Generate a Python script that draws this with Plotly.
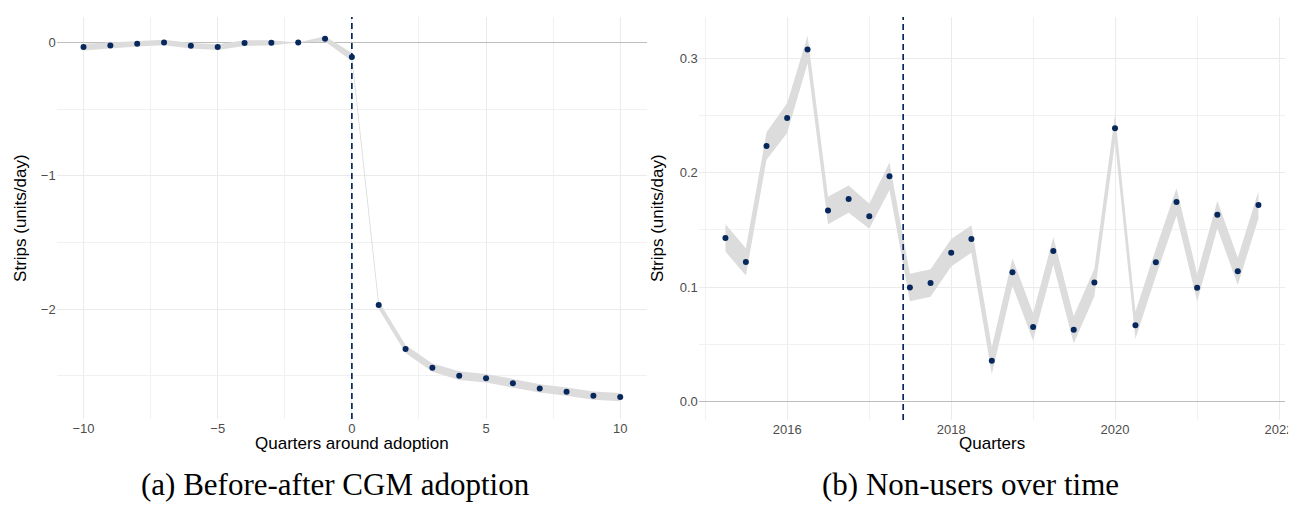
import plotly.graph_objects as go

W, H = 1304, 505

# ---------------- Data: panel (a) ----------------
quarters_rel = list(range(-10, 11))
est_rel = [-0.035, -0.022, -0.010, 0.000, -0.025, -0.035, -0.005, -0.003, 0.000, 0.027,
           -0.110, -1.970, -2.300, -2.440, -2.500, -2.520, -2.556, -2.596, -2.620, -2.650, -2.660]
ci_rel = [0.026, 0.022, 0.020, 0.021, 0.021, 0.022, 0.022, 0.020, 0.000, 0.020,
          0.030, 0.030, 0.030, 0.031, 0.033, 0.032, 0.032, 0.031, 0.031, 0.031, 0.031]
x_ticks_rel = [-10, -5, 0, 5, 10]
y_ticks_rel = [0, -1, -2]

# ---------------- Data: panel (b) ----------------
dates_nu = ["2015-04-01", "2015-07-01", "2015-10-01", "2016-01-01", "2016-04-01", "2016-07-01",
            "2016-10-01", "2017-01-01", "2017-04-01", "2017-07-01", "2017-10-01", "2018-01-01",
            "2018-04-01", "2018-07-01", "2018-10-01", "2019-01-01", "2019-04-01", "2019-07-01",
            "2019-10-01", "2020-01-01", "2020-04-01", "2020-07-01", "2020-10-01", "2021-01-01",
            "2021-04-01", "2021-07-01", "2021-10-01"]
est_nu = [0.143, 0.122, 0.2235, 0.248, 0.308, 0.167, 0.177, 0.162, 0.197, 0.0995, 0.1035, 0.130,
          0.142, 0.0355, 0.113, 0.065, 0.1315, 0.0626, 0.104, 0.239, 0.0664, 0.1216, 0.1744,
          0.0994, 0.1633, 0.1137, 0.1718]
ci_nu = [0.012, 0.012, 0.012, 0.013, 0.012, 0.012, 0.012, 0.011, 0.012, 0.012, 0.012, 0.012,
         0.012, 0.012, 0.012, 0.012, 0.012, 0.012, 0.012, 0.012, 0.012, 0.012, 0.012,
         0.012, 0.012, 0.012, 0.012]
y_ticks_nu = [0.0, 0.1, 0.2, 0.3]
adoption_date = "2017-06-01"

NAVY = "#06285C"
RIBBON = "#DCDCDC"
GRID = "#EBEBEB"
MINOR = "#F1F1F1"
TICK_COL = "#4D4D4D"
SANS = "Liberation Sans, Arial, sans-serif"
SERIF = "Liberation Serif, Times New Roman, serif"

fig = go.Figure()

# ribbon (a)
up_a = [e + c for e, c in zip(est_rel, ci_rel)]
lo_a = [e - c for e, c in zip(est_rel, ci_rel)]
fig.add_trace(go.Scatter(x=quarters_rel + quarters_rel[::-1], y=up_a + lo_a[::-1],
                         fill="toself", fillcolor=RIBBON, line=dict(width=0, color=RIBBON),
                         mode="lines", hoverinfo="skip", showlegend=False, xaxis="x", yaxis="y"))
fig.add_trace(go.Scatter(x=quarters_rel, y=est_rel, mode="markers",
                         marker=dict(color=NAVY, size=6), showlegend=False, xaxis="x", yaxis="y"))

# ribbon (b)
up_b = [e + c for e, c in zip(est_nu, ci_nu)]
lo_b = [e - c for e, c in zip(est_nu, ci_nu)]
fig.add_trace(go.Scatter(x=dates_nu + dates_nu[::-1], y=up_b + lo_b[::-1],
                         fill="toself", fillcolor=RIBBON, line=dict(width=0, color=RIBBON),
                         mode="lines", hoverinfo="skip", showlegend=False, xaxis="x2", yaxis="y2"))
fig.add_trace(go.Scatter(x=dates_nu, y=est_nu, mode="markers",
                         marker=dict(color=NAVY, size=6), showlegend=False, xaxis="x2", yaxis="y2"))

def px(x):
    return x / W

def py(y):
    return 1 - y / H

axis_common = dict(showline=False, ticks="", showgrid=True, gridcolor=GRID, gridwidth=1.1,
                   tickfont=dict(family=SANS, size=13, color=TICK_COL))

fig.update_layout(
    width=W, height=H,
    margin=dict(l=0, r=0, t=0, b=0),
    paper_bgcolor="white", plot_bgcolor="white",
    showlegend=False,
    xaxis=dict(domain=[px(49), px(643)], range=[-11, 11], tickmode="array",
               tickvals=x_ticks_rel, zeroline=False, anchor="y",
               minor=dict(dtick=2.5, tick0=0, showgrid=True, gridcolor=MINOR, gridwidth=0.8),
               **axis_common),
    yaxis=dict(domain=[py(411), py(9)], range=[-2.825, 0.191], tickmode="array",
               tickvals=y_ticks_rel, zeroline=True, zerolinecolor="#BDBDBD", zerolinewidth=1.2,
               anchor="x",
               minor=dict(dtick=0.5, tick0=0, showgrid=True, gridcolor=MINOR, gridwidth=0.8),
               **axis_common),
    xaxis2=dict(domain=[px(695), px(1285)], type="date", range=["2014-12-03", "2022-01-28"],
                dtick="M24", tick0="2016-01-01", tickformat="%Y", anchor="y2",
                minor=dict(dtick="M12", tick0="2015-01-01", showgrid=True, gridcolor=MINOR,
                           gridwidth=0.8),
                **axis_common),
    yaxis2=dict(domain=[py(412), py(9)], range=[-0.0165, 0.3365], tickmode="array",
                tickvals=y_ticks_nu, ticktext=["0.0", "0.1", "0.2", "0.3"],
                zeroline=True, zerolinecolor="#BDBDBD", zerolinewidth=1.2, anchor="x2",
                minor=dict(dtick=0.05, tick0=0, showgrid=True, gridcolor=MINOR, gridwidth=0.8),
                **axis_common),
)

# dashed adoption lines
fig.add_shape(type="line", xref="x", yref="y domain", x0=0, x1=0, y0=0, y1=1,
              line=dict(color=NAVY, width=1.7, dash="6px,4px"), layer="above")
fig.add_shape(type="line", xref="x2", yref="y2 domain", x0=adoption_date, x1=adoption_date,
              y0=0, y1=1, line=dict(color=NAVY, width=1.7, dash="6px,4px"), layer="above")

# crop of the right edge (as in the reference)
fig.add_shape(type="rect", xref="paper", yref="paper", x0=px(1288), x1=1.01, y0=-0.01, y1=1.01,
              fillcolor="white", line=dict(width=0), layer="above")

ann = []
ann.append(dict(text="Strips (units/day)", x=px(13), y=py(210), textangle=-90,
                font=dict(family=SANS, size=17, color="black")))
ann.append(dict(text="Strips (units/day)", x=px(654), y=py(210), textangle=-90,
                font=dict(family=SANS, size=17, color="black")))
ann.append(dict(text="Quarters around adoption", x=px(346), y=py(435),
                font=dict(family=SANS, size=17, color="black")))
ann.append(dict(text="Quarters", x=px(990), y=py(435),
                font=dict(family=SANS, size=17, color="black")))
ann.append(dict(text="(a) Before-after CGM adoption", x=px(330), y=py(476),
                font=dict(family=SERIF, size=31, color="black")))
ann.append(dict(text="(b) Non-users over time", x=px(968), y=py(476),
                font=dict(family=SERIF, size=31, color="black")))
for a in ann:
    a.update(xref="paper", yref="paper", xanchor="center", yanchor="middle", showarrow=False)
fig.update_layout(annotations=ann)

fig.write_html("out.html")
